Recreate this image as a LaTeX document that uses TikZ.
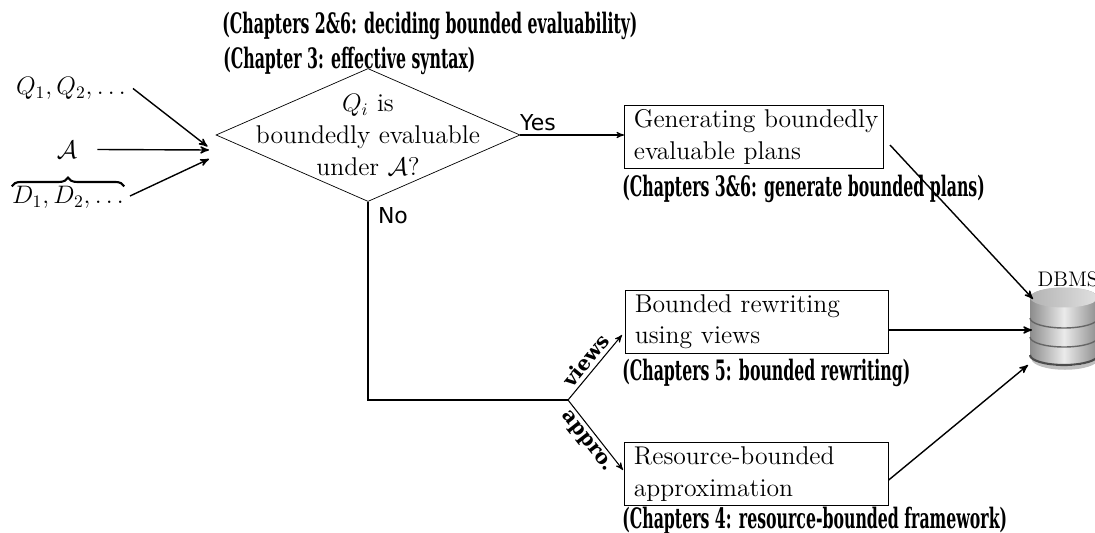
\documentclass[tikz,border=0pt]{standalone}
\usepackage{fontspec}
\usetikzlibrary{positioning}
\usetikzlibrary{shapes.geometric}
\usetikzlibrary{decorations.pathreplacing}
\usetikzlibrary{arrows}
\newfontfamily\chapfont[FakeStretch=0.56]{DejaVu Serif}
\newfontfamily\tagfont{DejaVu Serif}
\newfontfamily\yesfont{DejaVu Sans}

\begin{document}
\begin{tikzpicture}
[>=stealth',
 every node/.style={font=\fontsize{14.6}{18}\selectfont},
 decision/.style={shape=diamond,draw,inner sep=0,minimum width=6.08cm,minimum height=2.66cm},
 stepbox/.style={shape=rectangle,draw,inner sep=0,minimum height=1.26cm,anchor=north west,align=left,execute at begin node={\leftskip=0.19cm\relax}},
 chapter/.style={anchor=west,inner sep=0,font=\chapfont\bfseries\fontsize{16}{18}\selectfont},
 answer/.style={inner sep=0,font=\yesfont\fontsize{12.5}{15}\selectfont},
 edgetag/.style={inner sep=0,font=\tagfont\fontsize{11.5}{14}\selectfont\bfseries},
 flow/.style={->,thick}]

\useasboundingbox (0,0) rectangle (21.9,-10.66);

% decision
\node (decide) [decision] at (7.36,-2.7) {};
\node (decidetext) [align=center,inner sep=0] at (decide) {$Q_i$ is\\boundedly evaluable\\under $\mathcal{A}$?};

% inputs
\node (queries) [inner sep=0] at (1.42,-1.77) {$Q_1,Q_2,\dots$};
\node (access) [inner sep=0] at (1.34,-2.99) {$\mathcal{A}$};
\node (data) [inner sep=0,anchor=base] at (1.36,-4.08) {$D_1,D_2,\dots$};
\draw [decorate,decoration={brace,amplitude=5pt},very thick] (data.north west) -- (data.north east);
\coordinate (inq) at (4.15,-2.93);
\coordinate (ina) at (4.18,-3.0);
\coordinate (ind) at (4.18,-3.18);
\draw [flow] (2.66,-1.77) -- (inq);
\draw [flow] (access.east)+(0.4,0) -- (ina);
\draw [flow] (2.6,-3.92) -- (ind);

% plans
\node (plans) [stepbox,minimum width=5.18cm,text width=5.18cm] at (12.48,-2.1) {Generating boundedly\\evaluable plans};
\node (rewrite) [stepbox,minimum width=5.26cm,text width=5.26cm] at (12.5,-5.8) {Bounded rewriting\\using views};
\node (approx) [stepbox,minimum width=5.28cm,text width=5.28cm] at (12.48,-8.85) {Resource-bounded\\approximation};

% chapter notes
\node (note26) [chapter] at (4.44,-0.52) {(Chapters 2\&6: deciding bounded evaluability)};
\node (note3) [chapter] at (4.46,-1.22) {(Chapter 3: effective syntax)};
\node (note36) [chapter] at (12.44,-3.78) {(Chapters 3\&6: generate bounded plans)};
\node (note5) [chapter] at (12.44,-7.46) {(Chapters 5: bounded rewriting)};
\node (note4) [chapter] at (12.44,-10.42) {(Chapters 4: resource-bounded framework)};

% database
\draw [black!25,line width=2pt] (20.66,-7.16) arc (180:360:0.64 and 0.2);
\shade [left color=black!45,right color=black!45,middle color=black!8] (20.6,-5.95) -- (20.6,-7.1) arc (180:360:0.68 and 0.2) -- (21.96,-5.95) arc (0:180:0.68 and 0.2) -- cycle;
\shade [left color=black!30,right color=black!12] (20.6,-5.95) arc (180:-180:0.68 and 0.2);
\draw [black!60,thick] (20.6,-6.36) arc (180:360:0.68 and 0.2);
\draw [black!60,thick] (20.6,-6.74) arc (180:360:0.68 and 0.2);
\draw [black!70,line width=1.2pt] (20.6,-7.1) arc (180:360:0.68 and 0.2);
\node (dbms) [inner sep=0,font=\fontsize{12}{14}\selectfont] at (21.36,-5.58) {DBMS};
\coordinate (dbtop) at (20.66,-5.98);
\coordinate (dbmid) at (20.64,-6.6);
\coordinate (dbbot) at (20.56,-7.3);

% connectors
\draw [flow,semithick] (decide.east) -- (plans.west |- decide.east)
	node (yes) [answer,pos=0.17,above=0.08cm] {Yes};
\coordinate (fork) at (11.36,-8.0);
\draw [semithick] (decide.south) -- (decide.south |- fork) -- (fork);
\node (no) [answer] at (7.86,-4.32) {No};
\coordinate (toviews) at (12.44,-6.7);
\coordinate (toappro) at (12.46,-9.4);
\draw [flow,semithick] (fork) -- (toviews)
	node (views) [edgetag,midway,sloped,above=0.07cm] {views};
\draw [flow,semithick] (fork) -- (toappro)
	node (appro) [edgetag,midway,sloped,below=0.07cm] {appro.};
\draw [flow] (17.8,-2.9) -- (dbtop);
\draw [flow] (rewrite.east |- dbmid) -- (dbmid);
\draw [flow] (approx.east |- 0,-9.6) -- (dbbot);
\end{tikzpicture}
\end{document}
